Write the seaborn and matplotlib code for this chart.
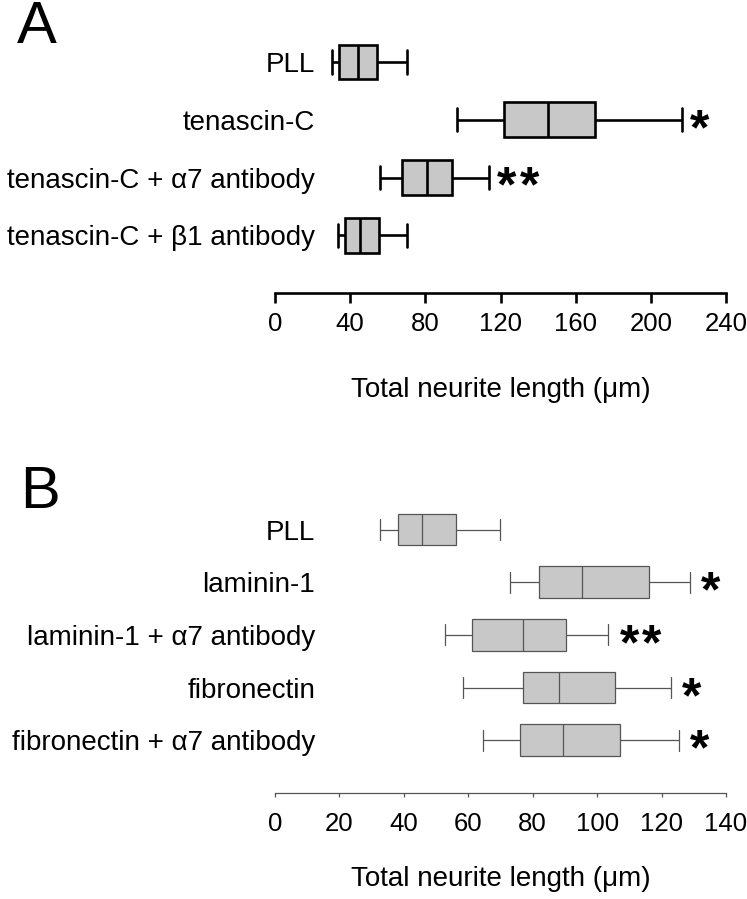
import numpy as np
import pandas as pd
import matplotlib
matplotlib.use('Agg')
import matplotlib.pyplot as plt
import seaborn as sns

# Panel A - tenascin-C (box summary values)
groups_a = ['PLL', 'tenascin-C', 'tenascin-C + α7 antibody', 'tenascin-C + β1 antibody']
low_a = [30.5, 96.7, 55.9, 33.4]
q1_a = [34.2, 122.0, 67.6, 37.1]
med_a = [44.3, 145.5, 80.9, 45.2]
q3_a = [54.4, 170.3, 94.2, 55.3]
high_a = [70.2, 216.4, 113.9, 70.1]
stars_a = ['', '*', '**', '']
ticks_a = [0, 40, 80, 120, 160, 200, 240]

# Panel B - laminin-1 / fibronectin
groups_b = ['PLL', 'laminin-1', 'laminin-1 + α7 antibody', 'fibronectin',
            'fibronectin + α7 antibody']
low_b = [32.6, 73.0, 52.8, 58.3, 64.7]
q1_b = [38.1, 82.1, 61.1, 76.9, 76.1]
med_b = [45.5, 95.2, 77.1, 88.1, 89.3]
q3_b = [56.1, 116.2, 90.2, 105.4, 107.2]
high_b = [69.7, 128.7, 103.5, 123.0, 125.4]
stars_b = ['', '*', '**', '*', '*']
ticks_b = [0, 20, 40, 60, 80, 100, 120, 140]

xlabel = 'Total neurite length (μm)'


def to_long(groups, low, q1, med, q3, high):
    # five values per group -> seaborn recovers exactly these quartiles
    rows = []
    for g, a, b, c, d, e in zip(groups, low, q1, med, q3, high):
        for v in (a, b, c, d, e):
            rows.append({'group': g, 'length': v})
    return pd.DataFrame(rows)


sns.set_style('white')
plt.rcParams['font.family'] = ['Liberation Sans', 'DejaVu Sans']
for key in ['text.color', 'axes.labelcolor', 'xtick.labelcolor', 'ytick.labelcolor']:
    plt.rcParams[key] = 'black'

W, H = 747, 899
fig = plt.figure(figsize=(W / 100, H / 100), dpi=100)

# axes placed in pixel terms
ax_a = fig.add_axes([275 / W, 1 - 293 / H, 451 / W, (293 - 27.4) / H])
ax_b = fig.add_axes([275 / W, 1 - 793 / H, 451 / W, (793 - 497.9) / H])

panels = [
    (ax_a, groups_a, low_a, q1_a, med_a, q3_a, high_a, stars_a, ticks_a,
     'black', 1.9, 4.0, 7, 7, 29, 6),
    (ax_b, groups_b, low_b, q1_b, med_b, q3_b, high_b, stars_b, ticks_b,
     '#555555', 0.9, 5.0, 3, 11, 21, 8),
]

for (ax, groups, low, q1, med, q3, high, stars, ticks,
     lc, lw, ybottom, ticklen, tickpad, labpad, gap) in panels:
    df = to_long(groups, low, q1, med, q3, high)
    sns.boxplot(data=df, x='length', y='group', order=groups, orient='h',
                whis=(0, 100), width=0.6, color='#c8c8c8', saturation=1,
                linecolor=lc, linewidth=lw, capwidths=0.4, ax=ax)
    for i, (hi, s) in enumerate(zip(high, stars)):
        for k in range(len(s)):
            ax.annotate('*', xy=(hi, i), xytext=(gap + k * 16, -17.5),
                        textcoords='offset points', ha='left', va='baseline',
                        fontsize=36, fontweight='bold', color='black',
                        annotation_clip=False)
    ax.set_xlim(ticks[0], ticks[-1])
    ax.set_ylim(ybottom, -0.6)
    ax.set_xticks(ticks)
    ax.set_ylabel('')
    ax.set_xlabel(xlabel, fontsize=20, labelpad=labpad)
    sns.despine(ax=ax, left=True)
    ax.spines['bottom'].set_color(lc)
    ax.spines['bottom'].set_linewidth(lw)
    ax.tick_params(axis='x', direction='out', length=ticklen, width=lw,
                   color=lc, bottom=True, pad=tickpad, labelsize=18.5)
    ax.tick_params(axis='y', length=0, pad=-29, labelsize=20)
    ax.patch.set_alpha(0)

fig.text(17 / W, 1 - 43 / H, 'A', fontsize=43, ha='left', va='baseline')
fig.text(20 / W, 1 - 508 / H, 'B', fontsize=43, ha='left', va='baseline')

fig.savefig('out.png', dpi=100)
